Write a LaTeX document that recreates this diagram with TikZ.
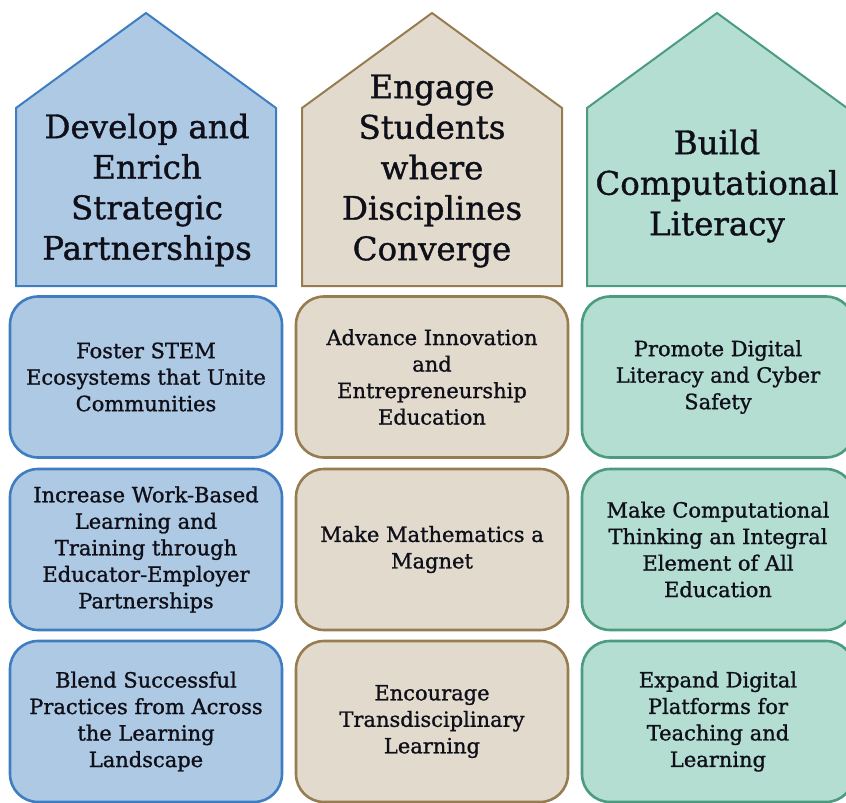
\documentclass[tikz,border=0pt]{standalone}
\usepackage{fontspec}
\setmainfont{DejaVu Serif}[FakeBold=1.1]
\definecolor{bluefill}{RGB}{174,201,227}
\definecolor{blueline}{RGB}{62,125,192}
\definecolor{tanfill}{RGB}{226,219,205}
\definecolor{tanline}{RGB}{150,124,80}
\definecolor{greenfill}{RGB}{180,222,210}
\definecolor{greenline}{RGB}{74,155,128}
\definecolor{txt}{RGB}{15,15,25}
\begin{document}
\begin{tikzpicture}[x=1pt,y=-1pt,
  house/.style={line width=2pt, line join=miter},
  title/.style={align=center, text=txt, font=\fontsize{32.5}{40.5}\selectfont, inner sep=0pt},
  card/.style={rounded corners=28pt, line width=2.6pt, minimum width=272pt, minimum height=161pt, inner sep=0pt, align=center, text=txt, font=\fontsize{21}{26.5}\selectfont}
]
\useasboundingbox (0,0) rectangle (846,803);
% houses
\draw[house, draw=blueline, fill=bluefill] (16,286) -- (16,108) -- (146,13) -- (276,108) -- (276,286) -- cycle;
\draw[house, draw=tanline, fill=tanfill] (302,286) -- (302,108) -- (432,13) -- (562,108) -- (562,286) -- cycle;
\draw[house, draw=greenline, fill=greenfill] (587,286) -- (587,108) -- (717,13) -- (847,108) -- (847,286) -- cycle;
\node[title] (h1) at (147,190) {Develop and\\Enrich\\Strategic\\Partnerships};
\node[title] (h2) at (432,171) {Engage\\Students\\where\\Disciplines\\Converge};
\node[title] (h3) at (717,186) {Build\\Computational\\Literacy};
% cards column 1
\node[card, draw=blueline, fill=bluefill] (a1) at (146,377) {Foster STEM\\Ecosystems that Unite\\Communities};
\node[card, draw=blueline, fill=bluefill] (a2) at (146,549.5) {Increase Work-Based\\Learning and\\Training through\\Educator-Employer\\Partnerships};
\node[card, draw=blueline, fill=bluefill] (a3) at (146,721.5) {Blend Successful\\Practices from Across\\the Learning\\Landscape};
% cards column 2
\node[card, draw=tanline, fill=tanfill] (b1) at (432,377) {Advance Innovation\\and\\Entrepreneurship\\Education};
\node[card, draw=tanline, fill=tanfill] (b2) at (432,549.5) {Make Mathematics a\\Magnet};
\node[card, draw=tanline, fill=tanfill] (b3) at (432,721.5) {Encourage\\Transdisciplinary\\Learning};
% cards column 3
\node[card, draw=greenline, fill=greenfill] (c1) at (718,377) {Promote Digital\\Literacy and Cyber\\Safety};
\node[card, draw=greenline, fill=greenfill] (c2) at (718,549.5) {Make Computational\\Thinking an Integral\\Element of All\\Education};
\node[card, draw=greenline, fill=greenfill] (c3) at (718,721.5) {Expand Digital\\Platforms for\\Teaching and\\Learning};
\end{tikzpicture}
\end{document}
